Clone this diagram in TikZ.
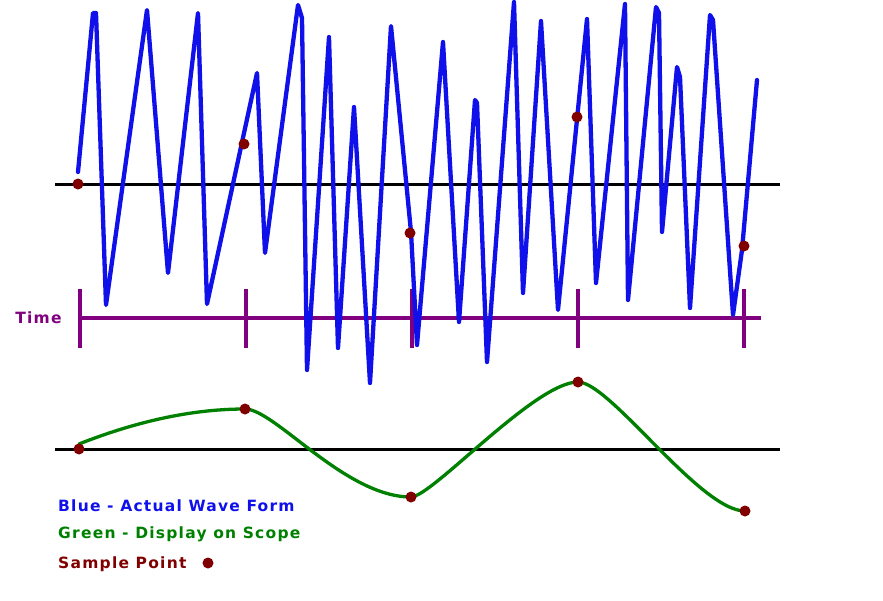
\documentclass[tikz,border=0pt]{standalone}
\usepackage{fontspec}
\setmainfont{DejaVu Sans}
\newfontfamily\legfont[LetterSpace=8]{DejaVu Sans}
\definecolor{wblue}{RGB}{16,16,235}
\definecolor{wgreen}{RGB}{0,128,0}
\definecolor{wpurple}{RGB}{128,0,128}
\definecolor{wred}{RGB}{128,0,0}
\begin{document}
\begin{tikzpicture}[x=1pt,y=-1pt,
  axisline/.style={black,line width=3pt},
  wave/.style={wblue,line width=4.3pt,line join=round,line cap=round},
  scope/.style={wgreen,line width=3.3pt,line cap=round},
  tline/.style={wpurple,line width=4pt},
  tick/.style={wpurple,line width=3.3pt},
  sdot/.style={circle,fill=wred,inner sep=0pt,minimum size=11pt},
  legend/.style={anchor=west,inner sep=0pt,font=\legfont\fontsize{15.5}{18}\selectfont\bfseries}
]
\useasboundingbox (0,0) rectangle (883,600);
% axes
\coordinate (a1l) at (55,184); \coordinate (a1r) at (780,184);
\coordinate (a2l) at (55,449); \coordinate (a2r) at (780,449);
\draw[axisline] (a1l) -- (a1r);
\draw[axisline] (a2l) -- (a2r);
% time line
\coordinate (tl) at (80,318); \coordinate (tr) at (761,318);
\draw[tline] (tl) -- (tr);
\foreach \x [count=\i] in {80,246,412,578,744}{
  \coordinate (tt\i) at (\x,289); \coordinate (tb\i) at (\x,348);
  \draw[tick] (tt\i) -- (tb\i);
}
\node[wpurple,inner sep=0pt,font=\legfont\fontsize{15.5}{18}\selectfont\bfseries] (time) at (38.5,318) {Time};
% blue waveform
\draw[wave] (78,172) -- (93,13) -- (96,13) -- (106,305) -- (147,10) -- (168,273)
  -- (198,13) -- (207,304) -- (257,73) -- (265,253) -- (298,5) -- (302,18)
  -- (307,370) -- (329,37) -- (338,348) -- (354,107) -- (370,383) -- (391,26)
  -- (411,232) -- (417,345) -- (443,42) -- (459,322) -- (475,100) -- (477,103)
  -- (487,362) -- (514,2) -- (523,293) -- (541,21) -- (558,310) -- (587,19)
  -- (596,283) -- (625,4) -- (628,300) -- (656,7) -- (659,13) -- (662,232)
  -- (677,67) -- (680,77) -- (690,308) -- (710,15) -- (713,20) -- (733,315)
  -- (742,250) -- (757,80);
% sample dots on waveform
\node[sdot] (s1) at (78,184) {};
\node[sdot] (s2) at (244,144) {};
\node[sdot] (s3) at (410,233) {};
\node[sdot] (s4) at (577,117) {};
\node[sdot] (s5) at (744,246) {};
% green scope display
\coordinate (g0) at (79,444);
\coordinate (g1) at (79,449);
\coordinate (g2) at (245,409);
\coordinate (g3) at (411,497);
\coordinate (g4) at (578,382);
\coordinate (g5) at (745,511);
\draw[scope] (g0) .. controls (150,416) and (205,409) .. (g2)
  .. controls (275,409) and (345,497) .. (g3)
  .. controls (432,497) and (535,382) .. (g4)
  .. controls (610,382) and (700,511) .. (g5);
\node[sdot] (d1) at (g1) {};
\node[sdot] (d2) at (g2) {};
\node[sdot] (d3) at (g3) {};
\node[sdot] (d4) at (g4) {};
\node[sdot] (d5) at (g5) {};
% legend
\node[legend,wblue] (l1) at (58,506) {Blue - Actual Wave Form};
\node[legend,wgreen] (l2) at (58,534) {Green - Display on Scope};
\node[legend,wred] (l3) at (58,564) {Sample Point};
\node[sdot] (l3dot) at (208,563) {};
\end{tikzpicture}
\end{document}
